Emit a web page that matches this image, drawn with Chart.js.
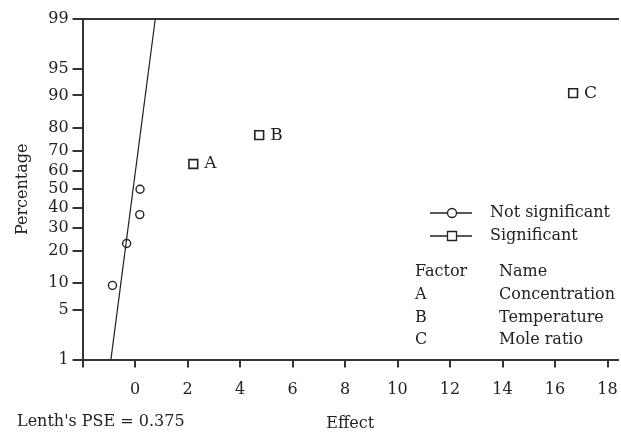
<!DOCTYPE html>
<html>
<head>
<meta charset="utf-8">
<script src="https://cdn.jsdelivr.net/npm/chart.js@4/dist/chart.umd.min.js"></script>
<style>
  html, body { margin: 0; padding: 0; background: #fff; }
  #wrap { width: 621px; height: 436px; }
</style>
</head>
<body>
<div id="wrap"><canvas id="chart" width="621" height="436"></canvas></div>
<script>
// 効果の正規確率プロット
const effectsNotSig = [-0.86, -0.32, 0.18, 0.19];
const pctNotSig = [9.46, 22.97, 36.49, 50.0];
const effectsSig = [2.22, 4.73, 16.69];
const pctSig = [63.51, 77.03, 90.54];
const factorCodes = ['A', 'B', 'C'];
const factorNames = ['Concentration', 'Temperature', 'Mole ratio'];
const fitEffects = [-0.92, 0.77];
const fitPct = [1, 99];
const yTickPct = [1, 5, 10, 20, 30, 40, 50, 60, 70, 80, 90, 95, 99];
const pseText = "Lenth's PSE = 0.375";

const FONT = '"DejaVu Serif", serif';
const INK = '#222';
const AXIS = '#333';

// 正規分布の逆関数（確率目盛り用）
function probit(p) {
    const a = [-39.69683028665376, 220.9460984245205, -275.9285104469687, 138.3577518672690, -30.66479806614716, 2.506628277459239];
    const b = [-54.47609879822406, 161.5858368580409, -155.6989798598866, 66.80131188771972, -13.28068155288572];
    const c = [-0.007784894002430293, -0.3223964580411365, -2.400758277161838, -2.549732539343734, 4.374664141464968, 2.938163982698783];
    const d = [0.007784695709041462, 0.3224671290700398, 2.445134137142996, 3.754408661907416];
    const pl = 0.02425;
    let q, r;
    if (p < pl) {
        q = Math.sqrt(-2 * Math.log(p));
        return (((((c[0] * q + c[1]) * q + c[2]) * q + c[3]) * q + c[4]) * q + c[5]) / ((((d[0] * q + d[1]) * q + d[2]) * q + d[3]) * q + 1);
    }
    if (p > 1 - pl) {
        q = Math.sqrt(-2 * Math.log(1 - p));
        return -(((((c[0] * q + c[1]) * q + c[2]) * q + c[3]) * q + c[4]) * q + c[5]) / ((((d[0] * q + d[1]) * q + d[2]) * q + d[3]) * q + 1);
    }
    q = p - 0.5;
    r = q * q;
    return (((((a[0] * r + a[1]) * r + a[2]) * r + a[3]) * r + a[4]) * r + a[5]) * q / (((((b[0] * r + b[1]) * r + b[2]) * r + b[3]) * r + b[4]) * r + 1);
}

const toPoints = (xs, ps) => xs.map((x, i) => ({ x, y: probit(ps[i] / 100) }));

const noSidePadding = scale => {
    scale.paddingLeft = 0;
    scale.paddingRight = 0;
};

// 凡例と注記
const notesPlugin = {
    id: 'notes',
    afterDatasetsDraw(chart) {
        const { ctx, scales } = chart;
        ctx.save();
        ctx.fillStyle = INK;
        ctx.textBaseline = 'middle';
        ctx.textAlign = 'left';

        // 有意な因子のラベル
        ctx.font = '17px ' + FONT;
        effectsSig.forEach((x, i) => {
            const px = scales.x.getPixelForValue(x);
            const py = scales.y.getPixelForValue(probit(pctSig[i] / 100));
            ctx.fillText(factorCodes[i], px + 11, py);
        });

        ctx.font = '16px ' + FONT;
        ctx.strokeStyle = INK;
        ctx.lineWidth = 1.3;

        // 凡例
        [[213, 'circle', 'Not significant'], [236, 'rect', 'Significant']].forEach(([y, shape, label]) => {
            ctx.beginPath();
            ctx.moveTo(430, y);
            ctx.lineTo(472, y);
            ctx.stroke();
            ctx.fillStyle = '#fff';
            ctx.beginPath();
            if (shape === 'circle') {
                ctx.arc(452, y, 4.5, 0, Math.PI * 2);
            } else {
                ctx.rect(447.5, y - 4.5, 9, 9);
            }
            ctx.fill();
            ctx.stroke();
            ctx.fillStyle = INK;
            ctx.fillText(label, 490, y);
        });

        // 因子表
        ctx.fillText('Factor', 415, 272);
        ctx.fillText('Name', 499, 272);
        factorCodes.forEach((code, i) => {
            const y = 295 + i * 22.5;
            ctx.fillText(code, 415, y);
            ctx.fillText(factorNames[i], 499, y);
        });

        ctx.fillText(pseText, 17, 422);
        ctx.restore();
    }
};

new Chart(document.getElementById('chart'), {
    type: 'scatter',
    data: {
        datasets: [
            {
                label: 'Fit',
                type: 'line',
                data: toPoints(fitEffects, fitPct),
                borderColor: INK,
                borderWidth: 1.2,
                pointRadius: 0,
                fill: false
            },
            {
                label: 'Not significant',
                data: toPoints(effectsNotSig, pctNotSig),
                pointStyle: 'circle',
                pointRadius: 4,
                borderColor: INK,
                borderWidth: 1.4,
                backgroundColor: '#fff'
            },
            {
                label: 'Significant',
                data: toPoints(effectsSig, pctSig),
                pointStyle: 'rect',
                pointRadius: 6.2,
                borderColor: INK,
                borderWidth: 1.6,
                backgroundColor: '#fff'
            }
        ]
    },
    options: {
        responsive: false,
        animation: false,
        layout: { autoPadding: false, padding: { left: 13, right: 3, top: 19, bottom: 0 } },
        plugins: {
            legend: { display: false },
            tooltip: { enabled: false }
        },
        scales: {
            x: {
                type: 'linear',
                position: 'bottom',
                min: -2,
                max: 18.4,
                border: { display: true, color: AXIS, width: 2 },
                grid: { display: true, drawOnChartArea: false, drawTicks: true, tickLength: 8, color: AXIS, lineWidth: 2 },
                afterFit: noSidePadding,
                ticks: {
                    stepSize: 2,
                    includeBounds: false,
                    padding: 13,
                    color: INK,
                    font: { family: FONT, size: 16 },
                    maxRotation: 0,
                    callback: v => (v < 0 ? '' : String(v))
                },
                title: {
                    display: true,
                    text: 'Effect',
                    color: INK,
                    font: { family: FONT, size: 16 },
                    padding: { top: 1, bottom: 3 }
                }
            },
            x2: {
                type: 'linear',
                position: 'top',
                min: -2,
                max: 18.4,
                border: { display: true, color: AXIS, width: 2 },
                grid: { display: false, drawTicks: false },
                afterFit: noSidePadding,
                ticks: { display: false }
            },
            y: {
                type: 'linear',
                min: probit(0.01),
                max: probit(0.99),
                border: { display: true, color: AXIS, width: 2 },
                grid: { display: true, drawOnChartArea: false, drawTicks: true, tickLength: 10, color: AXIS, lineWidth: 2 },
                afterBuildTicks(scale) {
                    scale.ticks = yTickPct.map(p => ({ value: probit(p / 100) }));
                },
                ticks: {
                    padding: 4,
                    color: INK,
                    font: { family: FONT, size: 16 },
                    callback: (v, i) => String(yTickPct[i])
                },
                title: {
                    display: true,
                    text: 'Percentage',
                    color: INK,
                    font: { family: FONT, size: 16 },
                    padding: { top: 0, bottom: 12 }
                }
            }
        }
    },
    plugins: [notesPlugin]
});
</script>
</body>
</html>
